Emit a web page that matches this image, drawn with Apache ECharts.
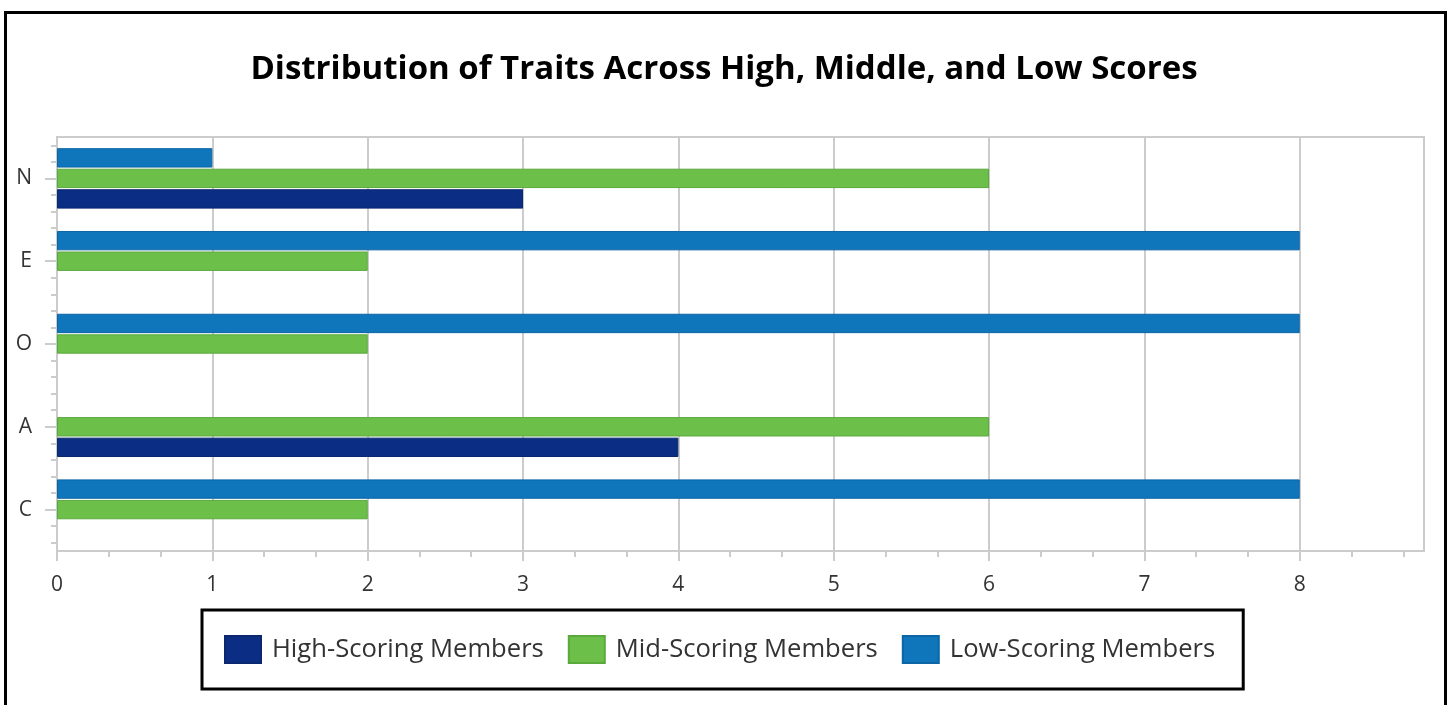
<!DOCTYPE html>
<html>
<head>
<meta charset="utf-8">
<title>Distribution of Traits</title>
<script src="https://cdn.jsdelivr.net/npm/echarts@6/dist/echarts.min.js"></script>
<style>
  html, body { margin: 0; padding: 0; background: #fff; }
  #chart { width: 1448px; height: 705px; }
</style>
</head>
<body>
<div id="chart"></div>
<script>
// traits, bottom to top
var traits = ['C', 'A', 'O', 'E', 'N'];
var highScoring = [null, 4, null, null, 3];
var midScoring = [2, 6, 2, 2, 6];
var lowScoring = [8, null, 8, 8, 1];
var xTicks = [0, 1, 2, 3, 4, 5, 6, 7, 8];
var xMax = 8.8;

var font = '"Segoe UI", "Open Sans", sans-serif';

// minor ticks: thirds on x, fifths of a band on y
var minorX = [];
for (var i = 0; i <= 26; i++) minorX.push(i);
var minorY = [];
for (var j = 0; j < traits.length * 5; j++) minorY.push('');

var chart = echarts.init(document.getElementById('chart'));
var option = {
  animation: false,
  backgroundColor: '#fff',
  title: {
    text: 'Distribution of Traits Across High, Middle, and Low Scores',
    left: 'center',
    top: 48,
    textStyle: { fontFamily: font, fontSize: 33, fontWeight: 'bold', color: '#000' }
  },
  legend: {
    data: ['High-Scoring Members', 'Mid-Scoring Members', 'Low-Scoring Members'],
    left: 202,
    top: 610,
    padding: [25, 28, 25, 22],
    borderColor: '#000',
    borderWidth: 3,
    itemWidth: 36,
    itemHeight: 27,
    itemGap: 24,
    icon: 'rect',
    textStyle: { fontFamily: font, fontSize: 25.6, color: '#333', padding: [3, 0, 0, 6] }
  },
  grid: { left: 57, right: 24, top: 137, bottom: 154, show: true, borderColor: '#ccc', borderWidth: 2 },
  xAxis: [
    {
      type: 'value', min: 0, max: xMax, interval: 1, position: 'bottom',
      axisLine: { show: true, lineStyle: { color: '#ccc', width: 2 } },
      axisTick: { show: true, length: 10, customValues: xTicks, lineStyle: { color: '#ccc', width: 2 } },
      axisLabel: {
        customValues: xTicks, margin: 24, color: '#333', fontFamily: font, fontSize: 21,
        formatter: function (v) { return v > 8 ? '' : v; }
      },
      splitLine: { show: true, lineStyle: { color: '#ccc', width: 2 } }
    },
    {
      type: 'value', min: 0, max: xMax * 3, interval: 1, position: 'bottom',
      axisLine: { show: false },
      axisTick: { show: true, length: 6, customValues: minorX, lineStyle: { color: '#ccc', width: 2 } },
      axisLabel: { show: false },
      splitLine: { show: false }
    }
  ],
  yAxis: [
    {
      type: 'category', data: traits, position: 'left',
      axisLine: { show: true, lineStyle: { color: '#ccc', width: 2 } },
      axisTick: { show: true, alignWithLabel: true, interval: 0, length: 12, lineStyle: { color: '#ccc', width: 2 } },
      axisLabel: { margin: 25, color: '#333', fontFamily: font, fontSize: 21 },
      splitLine: { show: false }
    },
    {
      type: 'category', data: minorY, position: 'left',
      axisLine: { show: false },
      axisTick: { show: true, alignWithLabel: true, interval: 0, length: 6, lineStyle: { color: '#ccc', width: 2 } },
      axisLabel: { show: false },
      splitLine: { show: false }
    }
  ],
  // first series sits at the top of each band
  series: [
    {
      name: 'Low-Scoring Members', type: 'bar', data: lowScoring,
      barCategoryGap: '27%', barGap: '6%',
      itemStyle: { color: '#0f76bc', borderColor: '#0c65a4', borderWidth: 1 }
    },
    {
      name: 'Mid-Scoring Members', type: 'bar', data: midScoring,
      barCategoryGap: '27%', barGap: '6%',
      itemStyle: { color: '#6cc04a', borderColor: '#5aa93c', borderWidth: 1 }
    },
    {
      name: 'High-Scoring Members', type: 'bar', data: highScoring,
      barCategoryGap: '27%', barGap: '6%',
      itemStyle: { color: '#0b2e84', borderColor: '#0a276f', borderWidth: 1 }
    }
  ],
  graphic: [
    {
      type: 'rect', left: 3, top: 10, silent: true,
      shape: { width: 1440, height: 720 },
      style: { fill: null, stroke: '#000', lineWidth: 3 }
    }
  ]
};
chart.setOption(option);
</script>
</body>
</html>
